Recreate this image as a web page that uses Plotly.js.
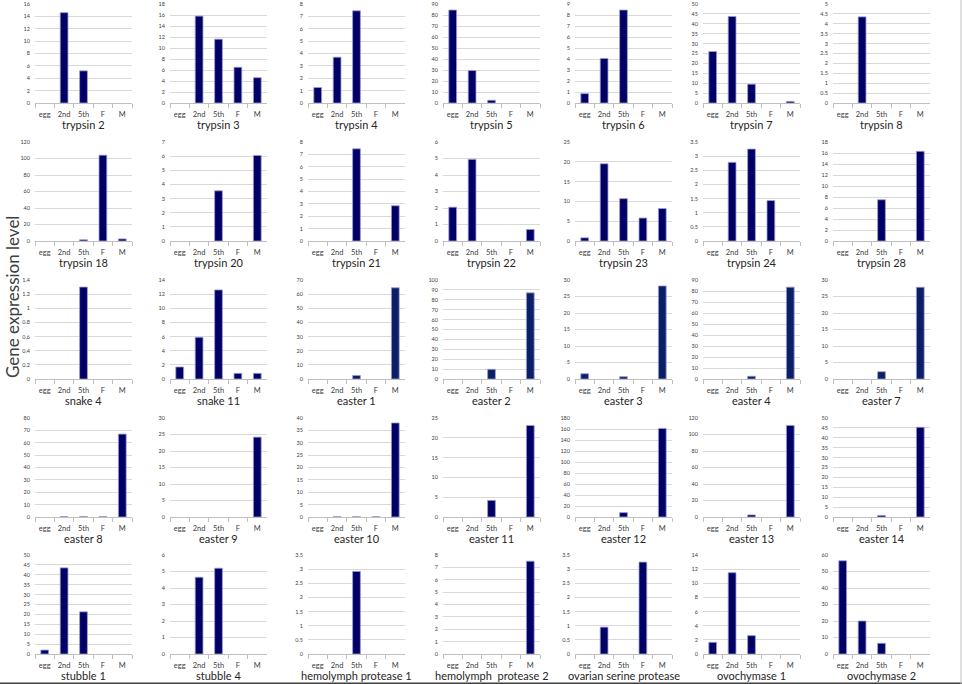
<!DOCTYPE html>
<html>
<head>
<meta charset="utf-8">
<script src="https://cdn.plot.ly/plotly-3.0.1.min.js"></script>
<style>
  body { margin: 0; background: #fff; }
  #chart { width: 962px; height: 684px; }
</style>
</head>
<body>
<div id="chart"></div>
<script>
// stages on every small chart
var stages = ['egg', '2nd', '5th', 'F', 'M'];

// chart titles, read row by row
var geneNames = [
  'trypsin 2', 'trypsin 3', 'trypsin 4', 'trypsin 5', 'trypsin 6', 'trypsin 7', 'trypsin 8',
  'trypsin 18', 'trypsin 20', 'trypsin 21', 'trypsin 22', 'trypsin 23', 'trypsin 24', 'trypsin 28',
  'snake 4', 'snake 11', 'easter 1', 'easter 2', 'easter 3', 'easter 4', 'easter 7',
  'easter 8', 'easter 9', 'easter 10', 'easter 11', 'easter 12', 'easter 13', 'easter 14',
  'stubble 1', 'stubble 4', 'hemolymph protease 1', 'hemolymph  protease 2',
  'ovarian serine protease', 'ovochymase 1', 'ovochymase 2'
];

// expression level per stage (egg, 2nd, 5th, F, M)
var row1Levels = [
  [0, 14.6, 5.2, 0, 0],
  [0, 15.8, 11.6, 6.5, 4.6],
  [1.25, 3.7, 7.45, 0, 0],
  [84.5, 29.5, 2.5, 0, 0],
  [0.85, 4.05, 8.45, 0, 0],
  [26, 43.7, 9.5, 0, 0.8],
  [0, 4.35, 0, 0, 0]
];
var row2Levels = [
  [0, 0, 1.5, 104, 2.5],
  [0, 0, 3.55, 0, 6.05],
  [0, 0, 7.45, 0, 2.85],
  [2.05, 4.95, 0, 0, 0.7],
  [0.8, 19.5, 10.7, 5.8, 8.2],
  [0, 2.78, 3.25, 1.43, 0],
  [0, 0, 7.5, 0, 16.3]
];
var row3Levels = [
  [0, 0, 1.3, 0, 0],
  [1.7, 5.9, 12.6, 0.8, 0.8],
  [0, 0, 2.5, 0, 64.5],
  [0, 0, 9.8, 0, 87],
  [1.6, 0, 0.7, 0, 28.2],
  [0, 0, 2.5, 0, 83.5],
  [0, 0, 2.2, 0, 27.8]
];
var row4Levels = [
  [0, 0.3, 0.3, 0.3, 67],
  [0, 0, 0, 0, 24.2],
  [0, 0.1, 0.1, 0.1, 38],
  [0, 0, 4.2, 0, 23.1],
  [0, 0, 8, 0, 161],
  [0, 0, 2.5, 0, 111],
  [0, 0, 0.8, 0, 45.3]
];
var row5Levels = [
  [2, 43.5, 21.3, 0, 0],
  [0, 4.65, 5.2, 0, 0],
  [0, 0, 2.92, 0, 0],
  [0, 0, 0, 0, 7.5],
  [0, 0.95, 0, 3.25, 0],
  [1.65, 11.5, 2.6, 0, 0],
  [56.5, 20, 6.5, 0, 0]
];

// y axis top and tick step of each small chart
var axisMax = [
  16, 18, 8, 90, 9, 50, 5,
  120, 7, 8, 6, 25, 3.5, 18,
  1.4, 14, 70, 100, 30, 90, 30,
  80, 30, 40, 25, 180, 120, 50,
  50, 6, 3.5, 8, 3.5, 14, 60
];
var axisStep = [
  2, 2, 1, 10, 1, 5, 0.5,
  20, 1, 1, 1, 5, 0.5, 2,
  0.2, 2, 10, 10, 5, 10, 5,
  10, 5, 5, 5, 20, 20, 5,
  5, 1, 0.5, 1, 0.5, 2, 10
];

var levels = row1Levels.concat(row2Levels, row3Levels, row4Levels, row5Levels);

var W = 962, H = 684;
var colLeft = [35, 170, 308, 443, 575, 703, 833];
var rowTop = [4, 142, 280, 418, 555];
var plotW = 97, plotH = 99;

var data = [];
var layout = {
  width: W,
  height: H,
  margin: {l: 0, r: 0, t: 0, b: 0},
  paper_bgcolor: '#ffffff',
  plot_bgcolor: '#ffffff',
  showlegend: false,
  bargap: 0.6,
  font: {family: 'Lato, "Open Sans", sans-serif', color: '#404040'},
  annotations: [],
  shapes: [
    {type: 'line', xref: 'paper', yref: 'paper', x0: 0, x1: 1, y0: 0.001, y1: 0.001,
     line: {color: '#404040', width: 1.5}},
    {type: 'line', xref: 'paper', yref: 'paper', x0: 0.999, x1: 0.999, y0: 0, y1: 1,
     line: {color: '#bfbfbf', width: 1}}
  ]
};

var easterColour = '#0a1f66';

geneNames.forEach(function(name, i) {
  var row = Math.floor(i / 7);
  var col = i % 7;
  var n = i + 1;
  var xa = n === 1 ? 'x' : 'x' + n;
  var ya = n === 1 ? 'y' : 'y' + n;
  var x0 = colLeft[col] / W;
  var x1 = (colLeft[col] + plotW) / W;
  var y1 = 1 - rowTop[row] / H;
  var y0 = 1 - (rowTop[row] + plotH) / H;
  var colour = (name.indexOf('easter') === 0 && row === 2) ? easterColour : '#000066';

  data.push({
    type: 'bar',
    x: stages,
    y: levels[i],
    xaxis: xa,
    yaxis: ya,
    marker: {
      color: colour,
      // no outline on empty bars, so nothing shows at zero
      line: {color: '#9c9cd0', width: levels[i].map(function(v) { return v > 0 ? 0.8 : 0; })}
    },
    hoverinfo: 'none'
  });

  var xKey = n === 1 ? 'xaxis' : 'xaxis' + n;
  var yKey = n === 1 ? 'yaxis' : 'yaxis' + n;

  layout[xKey] = {
    domain: [x0, x1],
    anchor: ya,
    type: 'category',
    showline: true,
    linecolor: '#bfbfbf',
    linewidth: 1,
    ticks: 'outside',
    tickson: 'boundaries',
    ticklen: 4,
    tickcolor: '#bfbfbf',
    tickangle: 0,
    ticklabelstandoff: 4,
    showgrid: false,
    tickfont: {size: 7.5, color: '#404040'},
    fixedrange: true
  };
  layout[yKey] = {
    domain: [y0, y1],
    anchor: xa,
    range: [0, axisMax[i]],
    dtick: axisStep[i],
    tick0: 0,
    showgrid: true,
    gridcolor: '#d9d9d9',
    gridwidth: 1,
    zeroline: false,
    showline: false,
    ticks: '',
    ticklabelstandoff: 4,
    tickfont: {size: 5.5, color: '#404040'},
    fixedrange: true
  };

  layout.annotations.push({
    text: name,
    xref: 'paper',
    yref: 'paper',
    x: (x0 + x1) / 2,
    y: 1 - (rowTop[row] + plotH + 21) / H,
    xanchor: 'center',
    yanchor: 'middle',
    showarrow: false,
    font: {size: 11, color: '#262626'}
  });
});

layout.annotations.push({
  text: 'Gene expression level',
  xref: 'paper',
  yref: 'paper',
  x: 12 / W,
  y: 1 - 297 / H,
  xanchor: 'center',
  yanchor: 'middle',
  textangle: -90,
  showarrow: false,
  font: {size: 17, color: '#404040'}
});

Plotly.newPlot('chart', data, layout, {staticPlot: true, displayModeBar: false});
</script>
</body>
</html>
